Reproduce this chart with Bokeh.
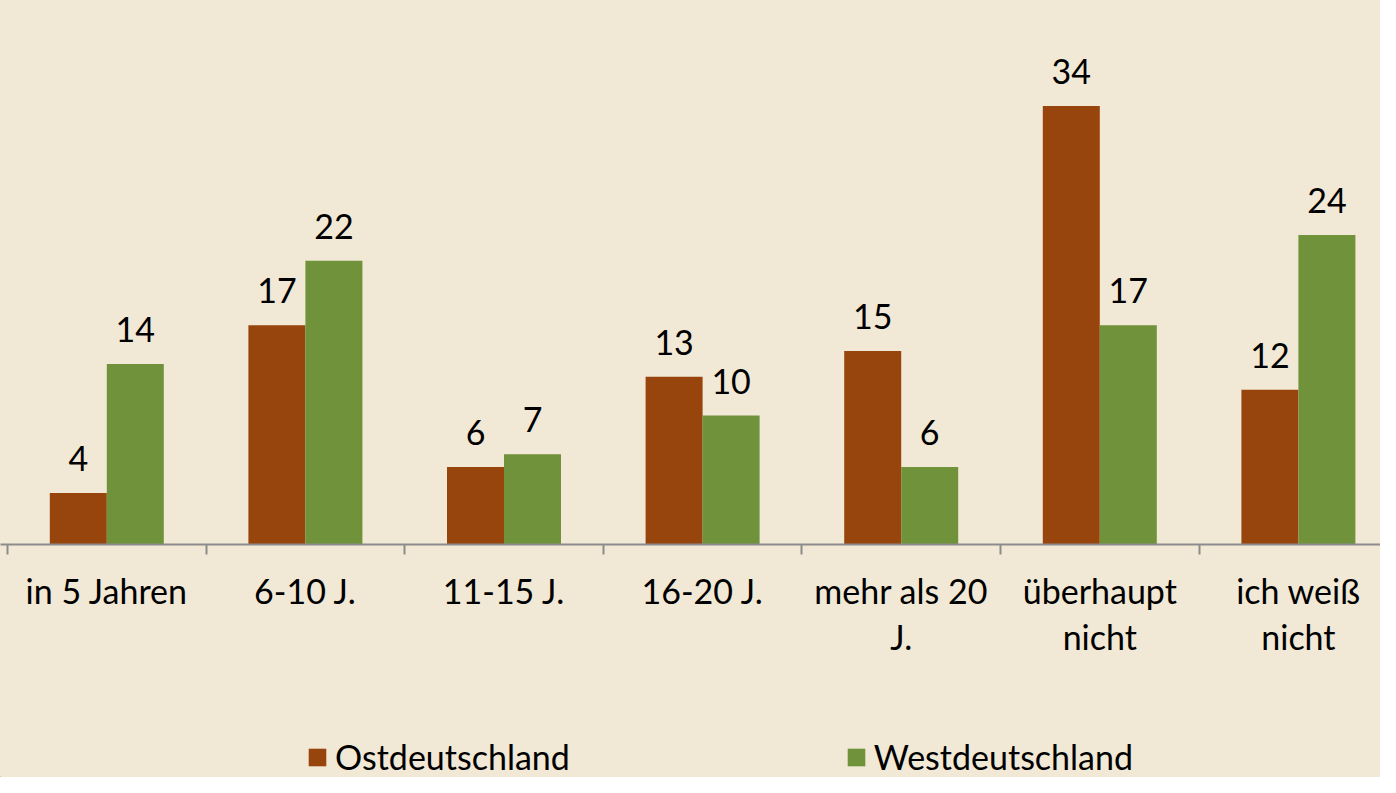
from bokeh.plotting import figure
from bokeh.layouts import column
from bokeh.models import (Range1d, FixedTicker, LinearAxis, Legend, LegendItem,
                          ColumnDataSource, LabelSet)
from bokeh.core.properties import value
from bokeh.embed import file_html
from bokeh.resources import INLINE

categories = ["in 5 Jahren", "6-10 J.", "11-15 J.", "16-20 J.",
              "mehr als 20 J.", "überhaupt nicht", "ich weiß nicht"]
label_line1 = ["in 5 Jahren", "6-10 J.", "11-15 J.", "16-20 J.",
               "mehr als 20", "überhaupt", "ich weiß"]
label_line2 = ["", "", "", "", "J.", "nicht", "nicht"]
series = ["Ostdeutschland", "Westdeutschland"]
ost = [4, 17, 6, 13, 15, 34, 12]
west = [14, 22, 7, 10, 6, 17, 24]

ORANGE = "#97450d"
GREEN = "#70923a"
BG = "#f1e8d5"
FONT = "Lato"
FS = "34px"
AXIS_COL = "#8c8c8c"

W = 1380
H1, H2 = 737, 40
CAT_PX = 198.6
UNIT_PX = 12.9
FRAME_H = 544
X0_PX = 7

n = len(categories)
centers = [i + 0.5 for i in range(n)]
bounds = list(range(n + 1))
bw = 0.287

src = ColumnDataSource(dict(
    xo=[c - bw / 2 for c in centers], xw=[c + bw / 2 for c in centers],
    ost=ost, west=west,
    ost_t=[str(v) for v in ost], west_t=[str(v) for v in west]))

x_start = -X0_PX / CAT_PX
p = figure(width=W, height=H1,
           x_range=Range1d(x_start, x_start + W / CAT_PX),
           y_range=Range1d(0, FRAME_H / UNIT_PX),
           output_backend="svg", toolbar_location=None,
           x_axis_type=None, y_axis_type=None,
           min_border_left=0, min_border_right=0, min_border_top=0,
           min_border_bottom=H1 - FRAME_H)
p.outline_line_color = None
p.background_fill_color = BG
p.border_fill_color = BG

p.vbar(x="xo", top="ost", width=bw, bottom=0, source=src,
       fill_color=ORANGE, line_color=None)
p.vbar(x="xw", top="west", width=bw, bottom=0, source=src,
       fill_color=GREEN, line_color=None)

for xcol, ycol, tcol in (("xo", "ost", "ost_t"), ("xw", "west", "west_t")):
    p.add_layout(LabelSet(x=xcol, y=ycol, text=tcol, source=src,
                          text_align="center", text_baseline="alphabetic",
                          y_offset=22, text_font=value(FONT),
                          text_font_size=value(FS), text_color="black"))

ax1 = LinearAxis(ticker=FixedTicker(ticks=centers, minor_ticks=bounds),
                 major_label_overrides={c: t for c, t in zip(centers, label_line1)},
                 major_tick_line_color=None, major_tick_in=0, major_tick_out=0,
                 minor_tick_in=0, minor_tick_out=10,
                 minor_tick_line_color=AXIS_COL, minor_tick_line_width=2,
                 axis_line_color=AXIS_COL, axis_line_width=2,
                 major_label_text_font=FONT, major_label_text_font_size=FS,
                 major_label_text_color="black", major_label_standoff=15)
ax2 = LinearAxis(ticker=FixedTicker(ticks=centers),
                 major_label_overrides={c: (t if t else " ") for c, t in zip(centers, label_line2)},
                 major_tick_line_color=None, major_tick_in=0, major_tick_out=0,
                 axis_line_color=None,
                 major_label_text_font=FONT, major_label_text_font_size=FS,
                 major_label_text_color="black", major_label_standoff=2)
p.add_layout(ax1, "below")
p.add_layout(ax2, "below")

# legend strip (swatch renderers sit outside the visible range)
p2 = figure(width=W, height=H2, x_range=Range1d(0, W), y_range=Range1d(0, H2),
            output_backend="svg", toolbar_location=None,
            x_axis_type=None, y_axis_type=None,
            min_border_left=0, min_border_right=0, min_border_top=0,
            min_border_bottom=0)
p2.outline_line_color = None
p2.background_fill_color = BG
p2.border_fill_color = BG
g1 = p2.vbar(x=[-1000], top=[1], width=1, fill_color=ORANGE, line_color=None)
g2 = p2.vbar(x=[-1000], top=[1], width=1, fill_color=GREEN, line_color=None)
legend = Legend(items=[LegendItem(label=series[0], renderers=[g1]),
                       LegendItem(label=series[1], renderers=[g2])],
                orientation="horizontal", location=(306, 0),
                glyph_width=22, glyph_height=22, label_standoff=7, spacing=275,
                padding=0, margin=0,
                label_text_font=FONT, label_text_font_size=FS,
                label_text_color="black",
                background_fill_alpha=0, border_line_color=None)
p2.add_layout(legend, "center")

layout = column(p, p2, spacing=0, styles={"background-color": BG})
open("out.html", "w").write(file_html(layout, INLINE))
